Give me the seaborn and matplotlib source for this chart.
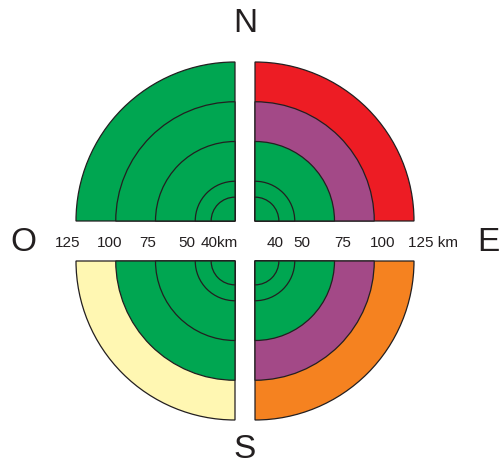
import matplotlib
matplotlib.use("Agg")
import matplotlib.pyplot as plt
from matplotlib.patches import Wedge
import seaborn as sns

# ring distances (km) and band colours per quadrant, inner band first
ring_km = [40, 50, 75, 100, 125]
green = "#00A651"
purple = "#A34987"
red = "#ED1C24"
orange = "#F58220"
yellow = "#FFF7B2"
nw_colors = [green, green, green, green, green]
ne_colors = [green, green, green, purple, red]
sw_colors = [green, green, green, green, yellow]
se_colors = [green, green, green, purple, orange]
left_labels = ["40km", "50", "75", "100", "125"]
right_labels = ["40", "50", "75", "100", "125 km"]
directions = ["N", "S", "O", "E"]

sns.set_theme(style="white")
plt.rcParams['font.family'] = ['Liberation Sans', 'DejaVu Sans']

km0 = 25          # distance at the centre of the rose
px = 1.59         # pixels per km
gx, gy = 10 / px, 20 / px   # half gaps between the quadrants
ink = "#231F20"

def radius(km):
    return km - km0

fig = plt.figure(figsize=(5, 4.66), dpi=100)
ax = fig.add_axes([0, 0, 1, 1])
ax.set_xlim(-245 / px, 255 / px)
ax.set_ylim(-225 / px, 241 / px)
ax.set_aspect('equal')
ax.axis('off')

quadrants = [
    ((-gx, gy), 90, 180, nw_colors),
    ((gx, gy), 0, 90, ne_colors),
    ((-gx, -gy), 180, 270, sw_colors),
    ((gx, -gy), 270, 360, se_colors),
]
for center, t1, t2, colors in quadrants:
    # outer bands first so the inner ones sit on top
    for i in range(len(ring_km) - 1, -1, -1):
        r_out = radius(ring_km[i])
        ax.add_patch(Wedge(center, r_out, t1, t2, facecolor=colors[i],
                           edgecolor=ink, linewidth=0.9))

# distance labels (pixel nudges relative to each ring)
ty = -2 / px
left_nudge = [-11, -8, -8, -6, -8]
right_nudge = [-4, 7, 8, 8, -6]
for km, lab, dx in zip(ring_km, left_labels, left_nudge):
    x = -gx - radius(km) + dx / px
    ha = 'left' if lab.endswith("km") else 'center'
    ax.text(x, ty, lab, ha=ha, va='center', fontsize=11, color=ink)
for km, lab, dx in zip(ring_km, right_labels, right_nudge):
    x = gx + radius(km) + dx / px
    ha = 'left' if lab.endswith("km") else 'center'
    ax.text(x, ty, lab, ha=ha, va='center', fontsize=11, color=ink)

# cardinal points
ax.text(0, 218 / px, directions[0], ha='center', va='center', fontsize=24, color=ink)
ax.text(0, -209 / px, directions[1], ha='center', va='center', fontsize=24, color=ink)
ax.text(-222 / px, ty, directions[2], ha='center', va='center', fontsize=24, color=ink)
ax.text(243 / px, ty, directions[3], ha='center', va='center', fontsize=24, color=ink)

fig.savefig("out.png", dpi=100)
